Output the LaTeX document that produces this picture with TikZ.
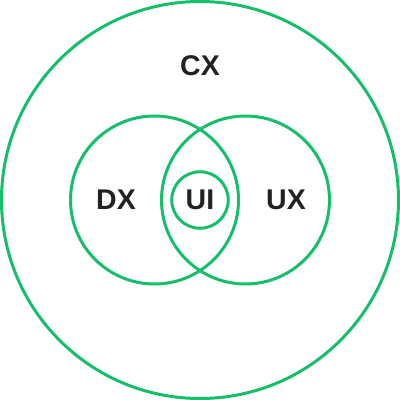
\documentclass[tikz,border=0pt]{standalone}
\usepackage{fontspec}
\setmainfont{Liberation Sans}
\definecolor{ring}{RGB}{22,190,108}
\definecolor{ink}{RGB}{34,34,34}
\begin{document}
\begin{tikzpicture}[x=1pt,y=-1pt,
  ringstyle/.style={draw=ring,line width=3pt,circle,inner sep=0pt},
  lab/.style={text=ink,font=\fontsize{28.5}{28.5}\selectfont\bfseries,inner sep=0pt}]
\useasboundingbox (0,0) rectangle (400,400);
\node[ringstyle,minimum size=397pt] (cx) at (200,200) {};
\node[ringstyle,minimum size=168pt] (dx) at (154.5,200) {};
\node[ringstyle,minimum size=168pt] (ux) at (245.5,200) {};
\node[ringstyle,minimum size=56.5pt] (ui) at (200,200) {};
\node[lab] (cxl) at (200,66) {CX};
\node[lab] (dxl) at (116,200) {DX};
\node[lab] (uxl) at (286,200) {UX};
\node[lab] (uil) at (200,200) {UI};
\end{tikzpicture}
\end{document}
